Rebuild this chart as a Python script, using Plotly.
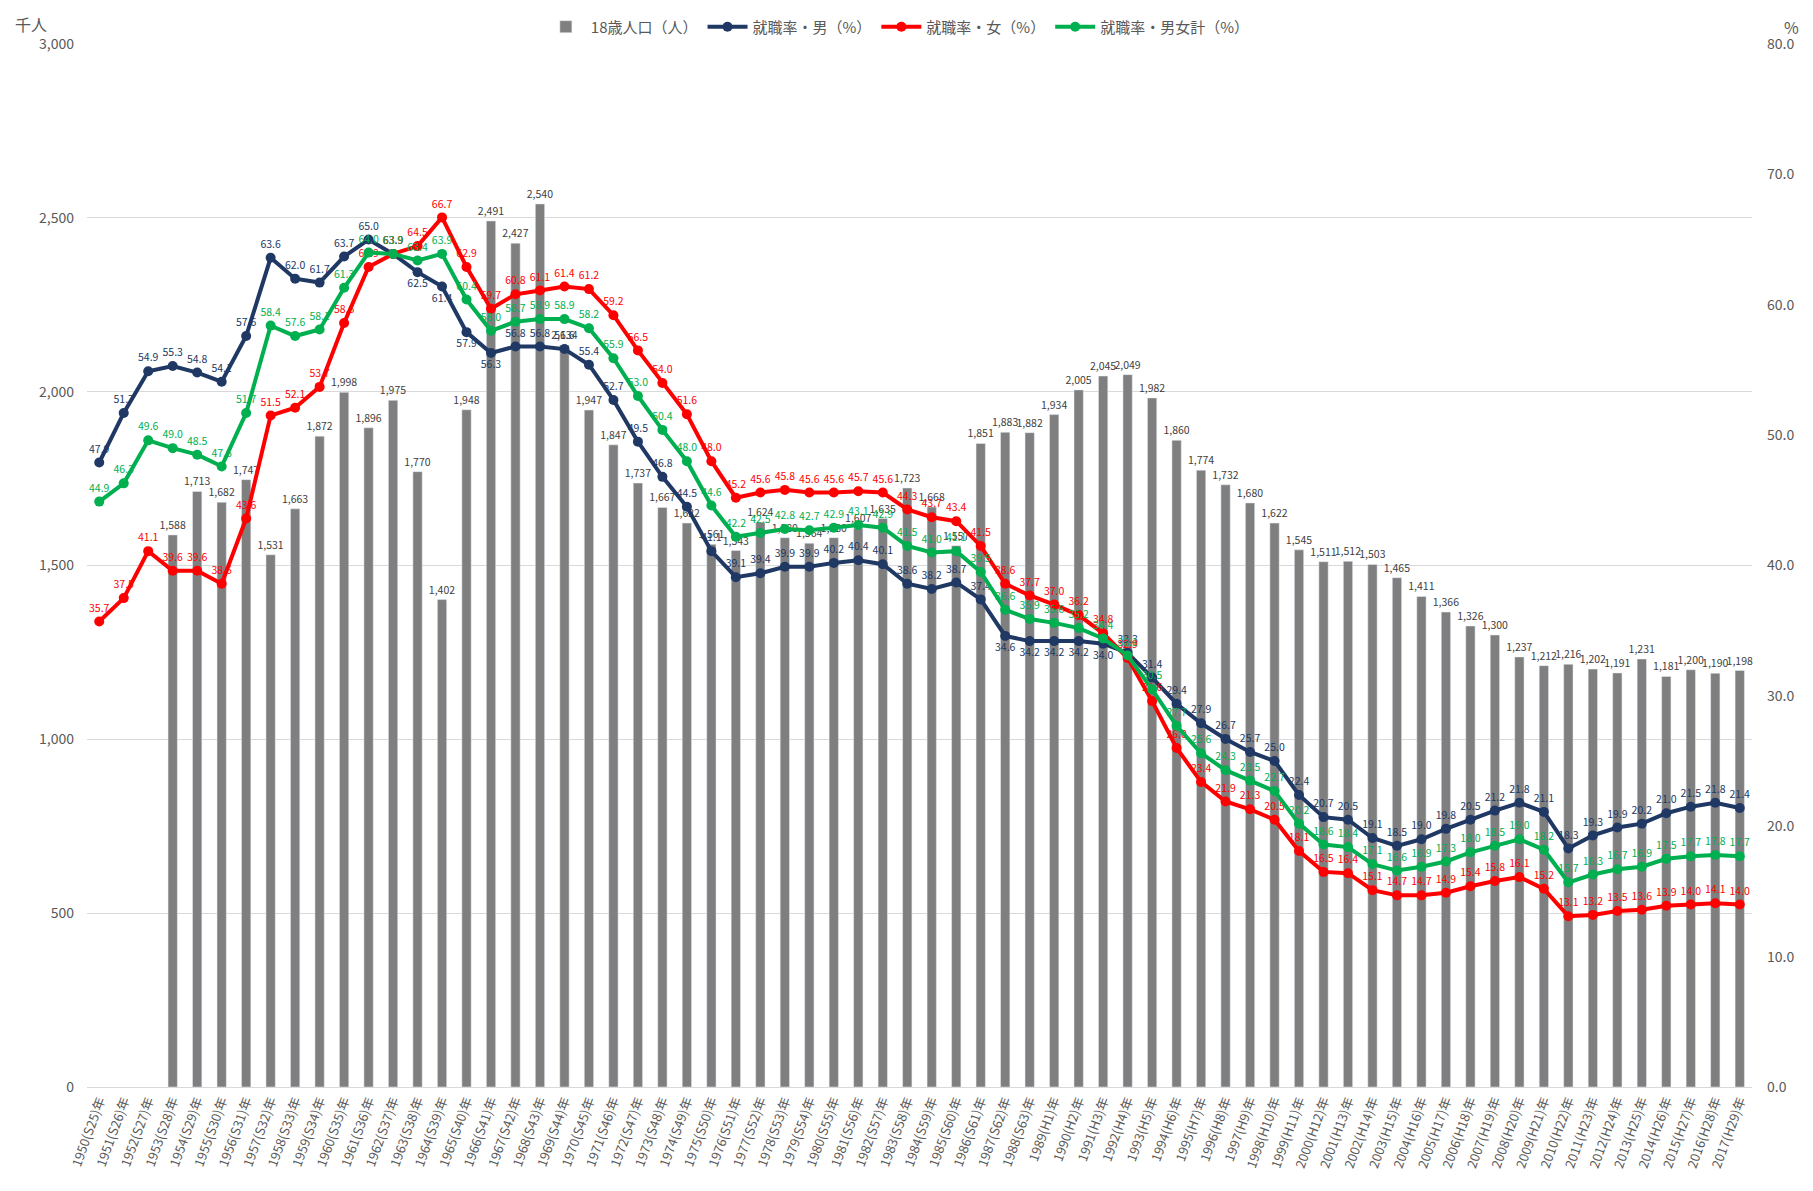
import plotly.graph_objects as go

years = list(range(1950, 2018))
era = (["S%d" % (y - 1925) for y in range(1950, 1989)] +
       ["H%d" % (y - 1988) for y in range(1989, 2018)])
categories = ["%d(%s)年" % (y, e) for y, e in zip(years, era)]

population = [None, None, None,
              1588, 1713, 1682, 1747, 1531, 1663, 1872, 1998, 1896, 1975, 1770, 1402,
              1948, 2491, 2427, 2540, 2134, 1947, 1847, 1737, 1667, 1622, 1561, 1543,
              1624, 1580, 1564, 1580, 1607, 1635, 1723, 1668, 1557, 1851, 1883, 1882,
              1934, 2005, 2045, 2049, 1982, 1860, 1774, 1732, 1680, 1622, 1545, 1511,
              1512, 1503, 1465, 1411, 1366, 1326, 1300, 1237, 1212, 1216, 1202, 1191,
              1231, 1181, 1200, 1190, 1198]

male = [47.9, 51.7, 54.9, 55.3, 54.8, 54.1, 57.6, 63.6, 62.0, 61.7, 63.7, 65.0, 63.9,
        62.5, 61.4, 57.9, 56.3, 56.8, 56.8, 56.6, 55.4, 52.7, 49.5, 46.8, 44.5, 41.1,
        39.1, 39.4, 39.9, 39.9, 40.2, 40.4, 40.1, 38.6, 38.2, 38.7, 37.4, 34.6, 34.2,
        34.2, 34.2, 34.0, 33.3, 31.4, 29.4, 27.9, 26.7, 25.7, 25.0, 22.4, 20.7, 20.5,
        19.1, 18.5, 19.0, 19.8, 20.5, 21.2, 21.8, 21.1, 18.3, 19.3, 19.9, 20.2, 21.0,
        21.5, 21.8, 21.4]

female = [35.7, 37.5, 41.1, 39.6, 39.6, 38.6, 43.6, 51.5, 52.1, 53.7, 58.6, 62.9, 63.9,
          64.5, 66.7, 62.9, 59.7, 60.8, 61.1, 61.4, 61.2, 59.2, 56.5, 54.0, 51.6, 48.0,
          45.2, 45.6, 45.8, 45.6, 45.6, 45.7, 45.6, 44.3, 43.7, 43.4, 41.5, 38.6, 37.7,
          37.0, 36.2, 34.8, 32.9, 29.6, 26.0, 23.4, 21.9, 21.3, 20.5, 18.1, 16.5, 16.4,
          15.1, 14.7, 14.7, 14.9, 15.4, 15.8, 16.1, 15.2, 13.1, 13.2, 13.5, 13.6, 13.9,
          14.0, 14.1, 14.0]

total = [44.9, 46.3, 49.6, 49.0, 48.5, 47.6, 51.7, 58.4, 57.6, 58.1, 61.3, 64.0, 63.9,
         63.4, 63.9, 60.4, 58.0, 58.7, 58.9, 58.9, 58.2, 55.9, 53.0, 50.4, 48.0, 44.6,
         42.2, 42.5, 42.8, 42.7, 42.9, 43.1, 42.9, 41.5, 41.0, 41.1, 39.5, 36.6, 35.9,
         35.6, 35.2, 34.4, 33.1, 30.5, 27.7, 25.6, 24.3, 23.5, 22.7, 20.2, 18.6, 18.4,
         17.1, 16.6, 16.9, 17.3, 18.0, 18.5, 19.0, 18.2, 15.7, 16.3, 16.7, 16.9, 17.5,
         17.7, 17.8, 17.7]

FONT = "Noto Sans CJK JP"
NAVY = "#203864"
RED = "#ff0000"
GREEN = "#00b050"
GRAY = "#7f7f7f"

male_pos = ["bottom center" if 1963 <= y <= 1966 or 1987 <= y <= 1991 else "top center"
            for y in years]

fig = go.Figure()
fig.add_trace(go.Bar(
    x=categories, y=population, name="18歳人口（人）",
    marker_color=GRAY, width=0.38,
    text=[("{:,}".format(v) if v is not None else "") for v in population],
    textposition="outside", constraintext="none", cliponaxis=False,
    textfont=dict(size=10.5, color="#404040", family=FONT),
))
for name, vals, col, pos in [("就職率・男（%）", male, NAVY, male_pos),
                             ("就職率・女（%）", female, RED, "top center"),
                             ("就職率・男女計（%）", total, GREEN, "top center")]:
    fig.add_trace(go.Scatter(
        x=categories, y=vals, name=name, yaxis="y2",
        mode="lines+markers+text",
        line=dict(color=col, width=4),
        marker=dict(color=col, size=10),
        text=["%.1f" % v for v in vals], textposition=pos,
        textfont=dict(size=10.5, color=col, family=FONT),
        cliponaxis=False,
    ))

fig.update_layout(
    width=1805, height=1183,
    margin=dict(l=79, r=61, t=36, b=104, autoexpand=False),
    paper_bgcolor="white", plot_bgcolor="white",
    font=dict(family=FONT, color="#595959", size=13),
    showlegend=True,
    legend=dict(orientation="h", x=0.493, xanchor="center", xref="container",
                y=0.984, yanchor="middle", yref="container",
                font=dict(size=15, color="#595959"), bgcolor="rgba(0,0,0,0)",
                itemwidth=40, traceorder="normal"),
    xaxis=dict(type="category", range=[-0.5, len(categories) - 0.5], automargin=False,
               tickangle=-70, showgrid=False,
               showline=True, linecolor="#d9d9d9", linewidth=1,
               tickfont=dict(size=13, color="#595959", family=FONT),
               ticks=""),
    yaxis=dict(range=[0, 3000], dtick=500, tickformat=",", showgrid=True,
               automargin=False, ticklabelstandoff=12,
               gridcolor="#d9d9d9", gridwidth=1, zeroline=False,
               tickfont=dict(size=14, color="#595959")),
    yaxis2=dict(range=[0, 80], dtick=10, tickformat=".1f", overlaying="y",
                side="right", showgrid=False, zeroline=False, automargin=False,
                ticklabelstandoff=14,
                tickfont=dict(size=14, color="#595959")),
    annotations=[
        dict(text="千人", xref="paper", yref="paper", x=-0.0336, y=1.019,
             xanchor="center", yanchor="middle", showarrow=False,
             font=dict(size=16, color="#595959")),
        dict(text="%", xref="paper", yref="paper", x=1.024, y=1.016,
             xanchor="center", yanchor="middle", showarrow=False,
             font=dict(size=16, color="#595959")),
    ],
)

fig.write_html("out.html")
